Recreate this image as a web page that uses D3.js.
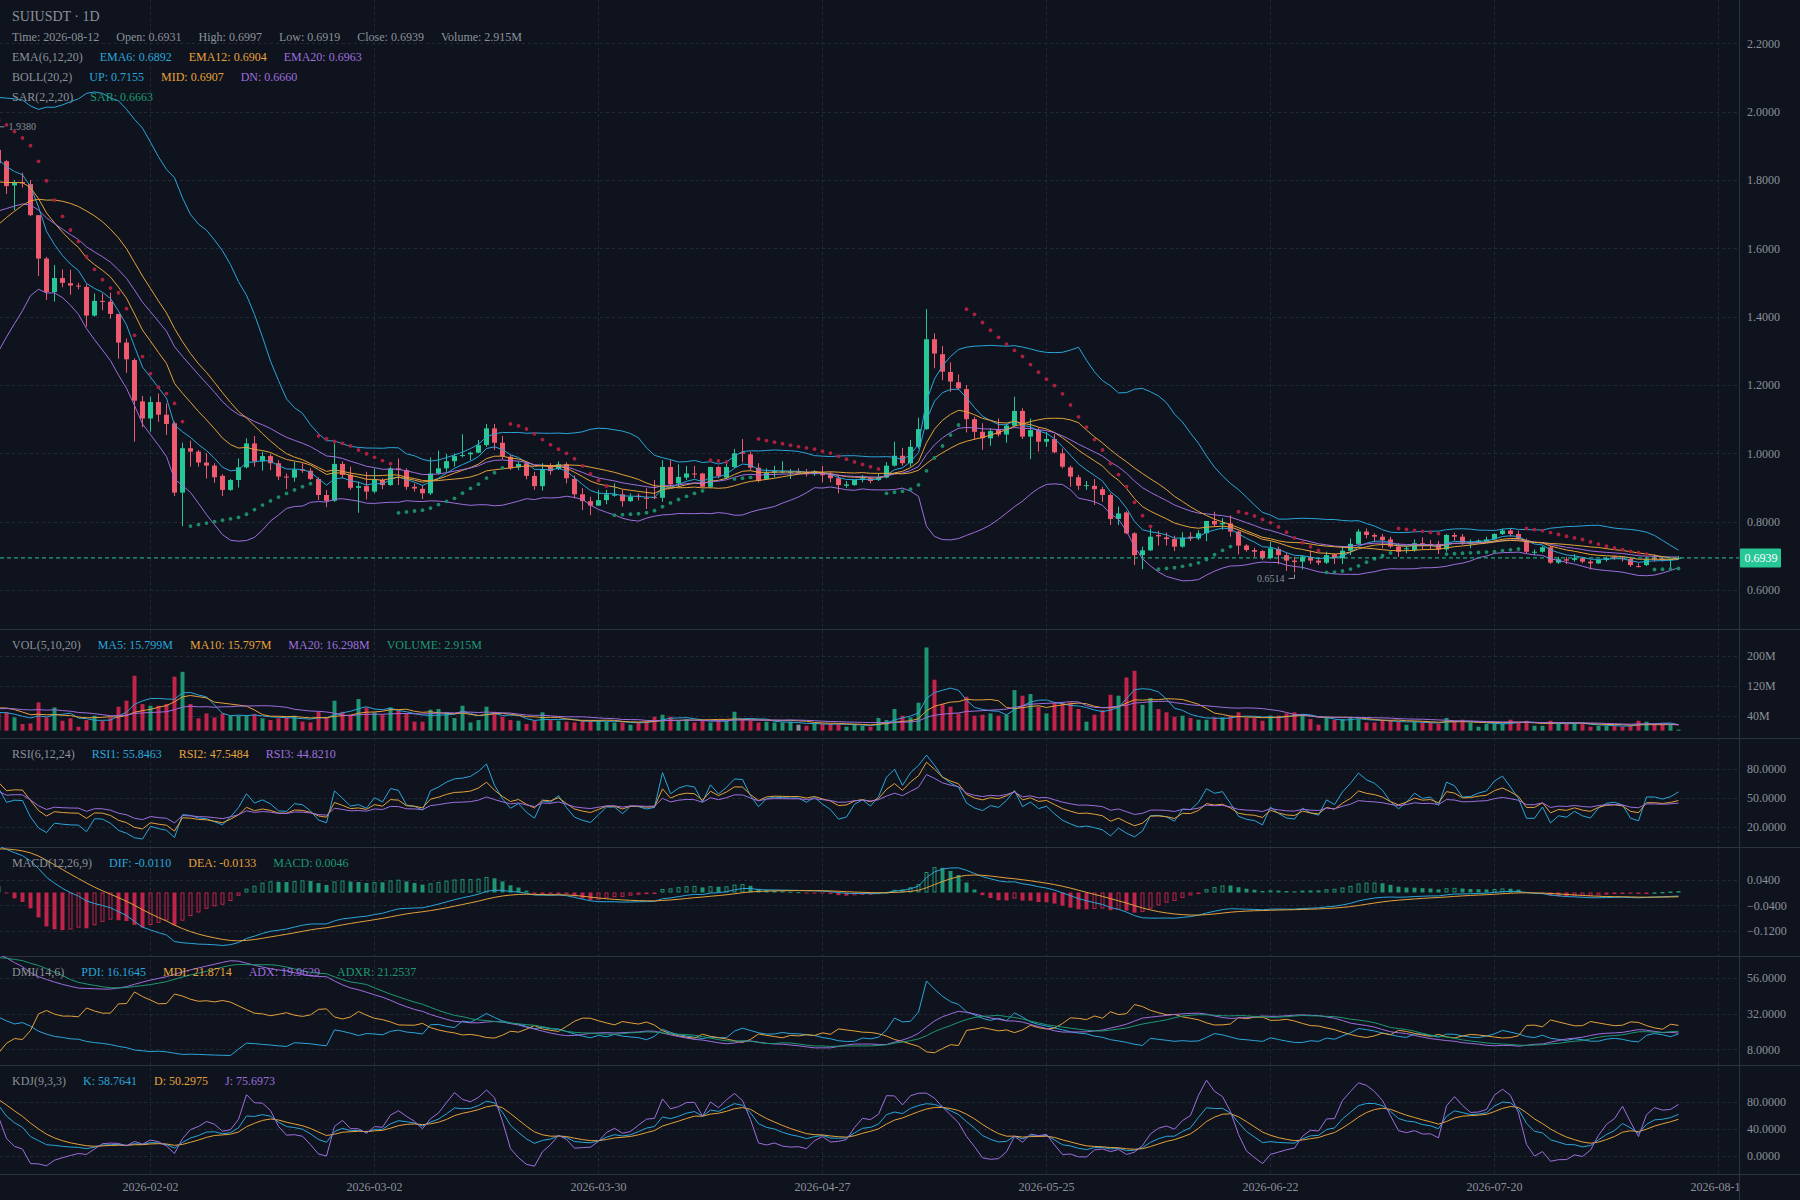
<!DOCTYPE html>
<html>
<head>
<meta charset="utf-8">
<script src="https://cdn.jsdelivr.net/npm/d3@7"></script>
<style>
  html, body { margin: 0; padding: 0; background: #0e131d; }
  svg { display: block; font-family: "Liberation Serif", "DejaVu Serif", serif; }
</style>
</head>
<body>
<svg id="chart" width="1800" height="1200"></svg>
<script>
// first day of the series (35 days before the first fully visible candle 2026-01-15)
const firstDay = '2025-12-11';

// daily OHLC + volume (M); the first 35 days sit left of the view
const opens = [
  1.34,1.36,1.33,1.38,1.35,1.40,1.37,1.34,1.39,1.36,
  1.41,1.38,1.35,1.39,1.37,1.41,1.38,1.42,1.45,1.43,
  1.48,1.52,1.51,1.57,1.62,1.67,1.66,1.73,1.79,1.85,
  1.83,1.91,1.95,1.90,1.888,
  1.855,1.784,1.794,1.788,1.697,1.570,1.472,1.513,1.498,1.491,
  1.487,1.403,1.446,1.444,1.408,1.324,1.273,1.152,1.102,1.150,
  1.113,1.088,0.885,1.015,1.005,0.973,0.964,0.934,0.893,0.922,
  0.959,1.029,0.976,0.992,0.971,0.932,0.929,0.953,0.949,0.925,
  0.878,0.861,0.969,0.937,0.899,0.904,0.888,0.922,0.907,0.956,
  0.951,0.902,0.896,0.883,0.941,0.956,0.977,0.992,0.997,1.002,
  1.024,1.073,1.031,0.990,0.959,0.971,0.934,0.904,0.961,0.954,
  0.968,0.925,0.880,0.860,0.847,0.863,0.876,0.880,0.860,0.876,
  0.870,0.872,0.870,0.960,0.912,0.929,0.941,0.941,0.902,0.960,
  0.929,0.960,1.003,0.997,0.958,0.925,0.943,0.944,0.944,0.946,
  0.944,0.939,0.941,0.938,0.927,0.905,0.907,0.922,0.927,0.922,
  0.929,0.964,0.993,0.971,1.019,1.071,1.334,1.290,1.238,1.208,
  1.188,1.100,1.063,1.044,1.068,1.055,1.081,1.124,1.049,1.068,
  1.034,1.042,1.000,0.959,0.930,0.904,0.905,0.895,0.878,0.808,
  0.827,0.766,0.702,0.716,0.761,0.754,0.749,0.727,0.756,0.751,
  0.766,0.802,0.792,0.795,0.771,0.730,0.717,0.714,0.693,0.720,
  0.702,0.686,0.683,0.696,0.686,0.680,0.704,0.693,0.715,0.735,
  0.771,0.761,0.756,0.748,0.727,0.719,0.717,0.737,0.734,0.735,
  0.719,0.761,0.756,0.737,0.740,0.741,0.748,0.764,0.774,0.764,
  0.746,0.710,0.712,0.725,0.680,0.690,0.688,0.693,0.683,0.678,
  0.688,0.698,0.695,0.691,0.670,0.673,0.695,0.692,0.688,0.6931
];
const highs = [
  1.38,1.37,1.40,1.39,1.42,1.41,1.38,1.41,1.40,1.43,
  1.42,1.39,1.41,1.40,1.43,1.42,1.44,1.47,1.46,1.50,
  1.54,1.54,1.59,1.64,1.69,1.70,1.75,1.81,1.87,1.87,
  1.93,1.98,1.97,1.93,1.938,
  1.858,1.800,1.821,1.800,1.697,1.575,1.551,1.538,1.537,1.499,
  1.495,1.468,1.468,1.470,1.408,1.336,1.278,1.168,1.166,1.175,
  1.146,1.093,1.031,1.037,1.010,1.000,0.971,0.939,0.925,0.985,
  1.044,1.051,1.005,0.998,0.980,0.941,0.975,0.971,0.956,0.930,
  0.893,1.029,0.976,0.961,0.917,0.946,0.956,0.927,0.961,0.985,
  0.956,0.912,0.907,0.988,1.008,0.998,1.000,1.056,1.005,1.039,
  1.086,1.086,1.051,0.995,0.976,0.976,0.946,0.971,0.971,0.976,
  0.974,0.935,0.898,0.873,0.893,0.893,0.912,0.893,0.883,0.883,
  0.898,0.922,0.980,0.980,0.968,0.963,0.963,0.943,0.961,0.963,
  0.971,1.013,1.042,1.005,0.971,0.956,0.963,0.977,0.954,0.956,
  0.954,0.951,0.963,0.946,0.937,0.919,0.922,0.937,0.932,0.941,
  0.974,1.034,1.016,1.039,1.104,1.422,1.351,1.314,1.266,1.231,
  1.200,1.107,1.088,1.073,1.102,1.088,1.166,1.132,1.102,1.075,
  1.063,1.056,1.014,0.964,0.937,0.919,0.925,0.902,0.883,0.844,
  0.831,0.769,0.727,0.780,0.773,0.768,0.759,0.769,0.769,0.775,
  0.802,0.829,0.810,0.819,0.773,0.734,0.724,0.717,0.741,0.727,
  0.709,0.697,0.702,0.715,0.693,0.712,0.707,0.729,0.751,0.778,
  0.780,0.766,0.764,0.756,0.737,0.729,0.748,0.754,0.746,0.744,
  0.764,0.768,0.764,0.748,0.748,0.756,0.766,0.780,0.780,0.774,
  0.751,0.719,0.729,0.729,0.697,0.697,0.705,0.697,0.688,0.690,
  0.697,0.701,0.699,0.697,0.678,0.697,0.705,0.697,0.692,0.6997
];
const lows = [
  1.32,1.31,1.32,1.33,1.34,1.35,1.32,1.33,1.34,1.35,
  1.36,1.33,1.34,1.35,1.36,1.36,1.37,1.40,1.41,1.42,
  1.46,1.49,1.50,1.55,1.60,1.63,1.65,1.71,1.77,1.80,
  1.82,1.89,1.88,1.86,1.840,
  1.759,1.712,1.778,1.694,1.519,1.449,1.444,1.486,1.464,1.480,
  1.371,1.400,1.419,1.394,1.277,1.236,1.034,1.076,1.063,1.092,
  1.054,0.875,0.787,0.961,0.961,0.926,0.914,0.875,0.890,0.900,
  0.956,0.961,0.949,0.951,0.922,0.895,0.917,0.943,0.922,0.863,
  0.842,0.858,0.927,0.893,0.826,0.865,0.883,0.895,0.905,0.907,
  0.893,0.888,0.866,0.878,0.937,0.946,0.961,0.988,0.980,1.000,
  1.019,1.010,0.982,0.951,0.951,0.924,0.893,0.891,0.937,0.951,
  0.912,0.868,0.834,0.819,0.847,0.851,0.873,0.844,0.858,0.862,
  0.837,0.866,0.858,0.902,0.902,0.922,0.927,0.899,0.897,0.927,
  0.925,0.956,0.974,0.951,0.915,0.922,0.929,0.941,0.925,0.941,
  0.932,0.934,0.915,0.915,0.883,0.899,0.905,0.915,0.912,0.919,
  0.927,0.961,0.964,0.961,1.014,1.068,1.249,1.214,1.180,1.185,
  1.061,1.039,1.010,1.022,1.049,1.031,1.078,1.042,0.983,1.005,
  1.019,1.000,0.956,0.902,0.893,0.893,0.849,0.858,0.790,0.790,
  0.763,0.673,0.661,0.714,0.730,0.730,0.714,0.724,0.743,0.746,
  0.743,0.785,0.776,0.756,0.704,0.712,0.697,0.688,0.690,0.675,
  0.656,0.6514,0.660,0.676,0.673,0.676,0.676,0.676,0.702,0.732,
  0.751,0.740,0.722,0.722,0.697,0.707,0.712,0.719,0.719,0.705,
  0.712,0.744,0.732,0.722,0.737,0.739,0.746,0.761,0.756,0.746,
  0.707,0.702,0.709,0.676,0.676,0.676,0.683,0.678,0.660,0.676,
  0.683,0.688,0.683,0.668,0.666,0.670,0.683,0.683,0.666,0.6919
];
const closes = [
  1.36,1.33,1.38,1.35,1.40,1.37,1.34,1.39,1.36,1.41,
  1.38,1.35,1.39,1.37,1.41,1.38,1.42,1.45,1.43,1.48,
  1.52,1.51,1.57,1.62,1.67,1.66,1.73,1.79,1.85,1.83,
  1.91,1.95,1.90,1.88,1.849,
  1.782,1.792,1.790,1.697,1.570,1.472,1.513,1.499,1.491,1.488,
  1.403,1.446,1.443,1.408,1.324,1.275,1.154,1.102,1.150,1.113,
  1.086,0.885,1.015,1.005,0.973,0.964,0.930,0.893,0.922,0.959,
  1.029,0.976,0.992,0.971,0.932,0.929,0.953,0.949,0.925,0.878,
  0.861,0.969,0.937,0.899,0.904,0.888,0.922,0.907,0.956,0.951,
  0.902,0.897,0.883,0.941,0.956,0.977,0.992,0.995,1.002,1.024,
  1.073,1.031,0.992,0.956,0.969,0.934,0.904,0.953,0.948,0.968,
  0.927,0.880,0.860,0.847,0.863,0.880,0.880,0.860,0.873,0.872,
  0.867,0.869,0.960,0.909,0.931,0.941,0.938,0.902,0.960,0.934,
  0.960,1.000,0.999,0.958,0.919,0.943,0.948,0.947,0.946,0.946,
  0.939,0.946,0.936,0.927,0.907,0.909,0.922,0.927,0.919,0.929,
  0.964,0.993,0.971,1.019,1.071,1.334,1.292,1.239,1.210,1.190,
  1.100,1.063,1.044,1.065,1.055,1.081,1.124,1.049,1.068,1.034,
  1.042,1.003,0.961,0.932,0.905,0.907,0.895,0.878,0.808,0.824,
  0.766,0.702,0.716,0.756,0.757,0.749,0.727,0.753,0.751,0.766,
  0.802,0.792,0.796,0.771,0.730,0.717,0.712,0.693,0.722,0.702,
  0.686,0.682,0.698,0.686,0.680,0.702,0.693,0.715,0.735,0.771,
  0.761,0.756,0.746,0.727,0.712,0.722,0.737,0.729,0.731,0.719,
  0.761,0.756,0.739,0.740,0.745,0.748,0.764,0.774,0.764,0.751,
  0.712,0.712,0.725,0.680,0.690,0.686,0.693,0.683,0.678,0.688,
  0.693,0.694,0.691,0.673,0.668,0.690,0.690,0.688,0.690,0.6939
];
const volumes = [
  42,38,45,36,48,33,40,44,31,47,
  35,39,42,30,46,37,52,55,41,58,
  62,44,66,71,75,52,78,84,90,61,
  52,55,46,42,48,
  49,35.5,17.8,19.5,75.5,35.5,62,26.6,33,10.6,
  28.4,40,26.6,35.5,64,80,146.7,71,66.6,66.6,
  71,144,157,71,33,46,35.5,46,40,40,
  40,44,33,28.4,33,35.5,40,24,22,50.6,
  35.5,80,50.6,42.6,84.4,62,49,42.6,62,53.3,
  46,24,24,56,57.8,49,33.8,66.6,22,28.4,
  64,50.6,37.3,28.4,26.6,17.8,26.6,49,28.4,26.6,
  24,22,26.6,26.6,26.6,24,22,22,16,22,
  26.6,37.3,42.6,37.3,26.6,31,22,26.6,22,28.4,
  26.6,50.6,31,26.6,22,24,22,22,24,16,
  13.3,19.5,17.8,19.5,17.8,10.6,16,13.3,10.6,33.8,
  28.4,57.8,40,35.5,74.6,222,136,71,64,46,
  90.6,40,42.6,46,40,42.6,108.4,93.3,97.8,64,
  46,75.5,75.5,75.5,57.8,24,42.6,55,96,93.3,
  142,160,69,87,57.8,49,37.3,40,33.8,29.3,
  29.3,35.5,35.5,40,49,33.8,33.8,26.6,40,40,
  46,49,44.4,31,16,35.5,28.4,31,35.5,31,
  22,22,28.4,26.6,24,16,24,22,22,17.8,
  33.8,24,29.3,22,10.6,17.8,19.5,19.5,29.3,22,
  26.6,13.3,13.3,26.6,19.5,19.5,17.8,17.8,10.6,13.3,
  13.3,13.3,10.6,13.3,26.6,24,17.8,17.8,16,2.915
];

// axis ticks
const xTickDates = ['2026-02-02','2026-03-02','2026-03-30','2026-04-27','2026-05-25','2026-06-22','2026-07-20','2026-08-17'];
const priceTicks = [2.2, 2.0, 1.8, 1.6, 1.4, 1.2, 1.0, 0.8, 0.6];
const volTicks = [200, 120, 40];
const rsiTicks = [80, 50, 20];
const macdTicks = [0.04, -0.04, -0.12];
const dmiTicks = [56, 32, 8];
const kdjTicks = [80, 40, 0];

// legend texts as shown
const titleText = 'SUIUSDT · 1D';
const ohlcLegend = ['Time: 2026-08-12', 'Open: 0.6931', 'High: 0.6997', 'Low: 0.6919', 'Close: 0.6939', 'Volume: 2.915M'];
const emaLegend = ['EMA(6,12,20)', 'EMA6: 0.6892', 'EMA12: 0.6904', 'EMA20: 0.6963'];
const bollLegend = ['BOLL(20,2)', 'UP: 0.7155', 'MID: 0.6907', 'DN: 0.6660'];
const sarLegend = ['SAR(2,2,20)', 'SAR: 0.6663'];
const volLegend = ['VOL(5,10,20)', 'MA5: 15.799M', 'MA10: 15.797M', 'MA20: 16.298M', 'VOLUME: 2.915M'];
const rsiLegend = ['RSI(6,12,24)', 'RSI1: 55.8463', 'RSI2: 47.5484', 'RSI3: 44.8210'];
const macdLegend = ['MACD(12,26,9)', 'DIF: -0.0110', 'DEA: -0.0133', 'MACD: 0.0046'];
const dmiLegend = ['DMI(14,6)', 'PDI: 16.1645', 'MDI: 21.8714', 'ADX: 19.9629', 'ADXR: 21.2537'];
const kdjLegend = ['KDJ(9,3,3)', 'K: 58.7641', 'D: 50.2975', 'J: 75.6973'];

// ---- styles / layout
const W = 1800, H = 1200, plotW = 1739;
const bg = '#0e131d', gridColor = '#222937', sepColor = '#2b3341', grey = '#8c919b';
const blue = '#2ba6da', orange = '#e6a23c', purple = '#9f6fdf', teal = '#1f9873';
const upColor = '#27c796', downColor = '#ef5a6f', flatColor = '#8c919b';
const volUp = '#1f9470', volDown = '#c2234a';
const sarUp = '#1c8a66', sarDown = '#ab1f41';
const fmt4 = d3.format('.4f');

const bars = closes.map((c, i) => ({
  date: d3.utcDay.offset(new Date(firstDay + 'T00:00:00Z'), i),
  o: opens[i], h: highs[i], l: lows[i], c: c, v: volumes[i]
}));
const candleColor = b => b.c > b.o ? upColor : b.c < b.o ? downColor : flatColor;
const barColor = b => b.c > b.o ? volUp : b.c < b.o ? volDown : flatColor;

// ---- indicators
function sma(arr, n) {
  return arr.map((_, i) => i < n - 1 ? null : d3.mean(arr.slice(i - n + 1, i + 1)));
}
function ema(arr, n) {
  let sum = 0, prev = null;
  return arr.map((v, i) => {
    sum += v;
    if (i < n - 1) return null;
    prev = i === n - 1 ? sum / n : (2 * v + (n - 1) * prev) / (n + 1);
    return prev;
  });
}
function calcBoll(arr, n, k) {
  const mid = sma(arr, n);
  return arr.map((_, i) => {
    if (mid[i] == null) return null;
    const win = arr.slice(i - n + 1, i + 1);
    const sd = Math.sqrt(d3.mean(win, v => (v - mid[i]) ** 2));
    return { up: mid[i] + k * sd, mid: mid[i], dn: mid[i] - k * sd };
  });
}
function calcSar(data) {
  const start = 0.02, step = 0.02, max = 0.2;
  let af = start, ep = -100, up = false, sar = 0;
  return data.map((d, i) => {
    const pre = sar;
    const prevBar = data[Math.max(1, i) - 1];
    if (up) {
      if (ep === -100 || ep < d.h) { ep = d.h; af = Math.min(af + step, max); }
      sar = pre + af * (ep - pre);
      const lowMin = Math.min(prevBar.l, d.l);
      if (sar > d.l) { sar = ep; af = start; ep = -100; up = false; }
      else if (sar > lowMin) sar = lowMin;
    } else {
      if (ep === -100 || ep > d.l) { ep = d.l; af = Math.min(af + step, max); }
      sar = pre + af * (ep - pre);
      const highMax = Math.max(prevBar.h, d.h);
      if (sar < d.h) { sar = ep; af = 0; ep = -100; up = true; }
      else if (sar < highMax) sar = highMax;
    }
    return sar;
  });
}
// RSI with Wilder smoothing: SMA(x, n, 1)
function calcRsi(arr, n) {
  let up = null, dn = null;
  return arr.map((c, i) => {
    if (i === 0) return null;
    const ch = c - arr[i - 1];
    const u = Math.max(ch, 0), d = Math.max(-ch, 0);
    up = up == null ? u : (u + (n - 1) * up) / n;
    dn = dn == null ? d : (d + (n - 1) * dn) / n;
    if (i < n) return null;
    return up + dn ? up / (up + dn) * 100 : 50;
  });
}
function calcMacd(arr, s, l, sig) {
  const es = ema(arr, s), el = ema(arr, l);
  let difSum = 0, dea = null;
  return arr.map((c, i) => {
    if (el[i] == null) return null;
    const dif = es[i] - el[i];
    difSum += dif;
    const r = { dif };
    if (i >= l + sig - 2) {
      dea = i > l + sig - 2 ? (dif * 2 + dea * (sig - 1)) / (sig + 1) : difSum / sig;
      r.dea = dea;
      r.macd = (dif - dea) * 2;
    }
    return r;
  });
}
function calcDmi(data, n, m) {
  let trSum = 0, hSum = 0, lSum = 0, mtr = 0, dmp = 0, dmm = 0, dxSum = 0, adx = 0;
  const res = [];
  data.forEach((d, i) => {
    const p = data[i - 1] || d;
    const tr = Math.max(d.h - d.l, Math.abs(d.h - p.c), Math.abs(p.c - d.l));
    const hhy = d.h - p.h, lyl = p.l - d.l;
    const hv = hhy > 0 && hhy > lyl ? hhy : 0;
    const lv = lyl > 0 && lyl > hhy ? lyl : 0;
    trSum += tr; hSum += hv; lSum += lv;
    const r = {};
    if (i >= n - 1) {
      if (i > n - 1) {
        mtr = mtr - mtr / n + tr; dmp = dmp - dmp / n + hv; dmm = dmm - dmm / n + lv;
      } else { mtr = trSum; dmp = hSum; dmm = lSum; }
      const pdi = mtr ? dmp * 100 / mtr : 0, mdi = mtr ? dmm * 100 / mtr : 0;
      const dx = pdi + mdi ? Math.abs(mdi - pdi) / (mdi + pdi) * 100 : 0;
      dxSum += dx;
      if (i >= n * 2 - 2) {
        adx = i > n * 2 - 2 ? (adx * (n - 1) + dx) / n : dxSum / n;
        r.pdi = pdi; r.mdi = mdi; r.adx = adx;
        if (i >= n * 2 + m - 3) r.adxr = (res[i - (m - 1)].adx + adx) / 2;
      }
    }
    res.push(r);
  });
  return res;
}
function calcKdj(data, n, m1, m2) {
  let k = 50, d = 50;
  return data.map((b, i) => {
    if (i < n - 1) return null;
    const win = data.slice(i - n + 1, i + 1);
    const hn = d3.max(win, w => w.h), ln = d3.min(win, w => w.l);
    const rsv = (b.c - ln) / ((hn - ln) || 1) * 100;
    k = ((m1 - 1) * k + rsv) / m1;
    d = ((m2 - 1) * d + k) / m2;
    return { k, d, j: 3 * k - 2 * d };
  });
}

const ema6 = ema(closes, 6), ema12 = ema(closes, 12), ema20 = ema(closes, 20);
const boll = calcBoll(closes, 20, 2);
const sar = calcSar(bars);
const volMa5 = sma(volumes, 5), volMa10 = sma(volumes, 10), volMa20 = sma(volumes, 20);
const rsi6 = calcRsi(closes, 6), rsi12 = calcRsi(closes, 12), rsi24 = calcRsi(closes, 24);
const macd = calcMacd(closes, 12, 26, 9);
const dmi = calcDmi(bars, 14, 6);
const kdj = calcKdj(bars, 9, 3, 3);

// ---- scales
const x = d3.scaleUtc()
  .domain([new Date('2026-01-15T00:00:00Z'), new Date('2026-08-12T00:00:00Z')])
  .range([6, 1678]);
const px = d => x(d) + 0.5;

const panels = [
  { id: 'main', top: 0, bottom: 629 },
  { id: 'vol', top: 629, bottom: 738 },
  { id: 'rsi', top: 738, bottom: 847 },
  { id: 'macd', top: 847, bottom: 956 },
  { id: 'dmi', top: 956, bottom: 1065 },
  { id: 'kdj', top: 1065, bottom: 1174 }
];
const yMain = d3.scaleLinear().domain([0.6, 2.2]).range([590.0, 43.3]);
const yVol = d3.scaleLinear().domain([0, 200]).range([730.7, 655.7]);
const yRsi = d3.scaleLinear().domain([20, 80]).range([827.0, 769.0]);
const yMacd = d3.scaleLinear().domain([-0.04, 0.04]).range([905.3, 879.7]);
const yDmi = d3.scaleLinear().domain([8, 56]).range([1049.3, 978.1]);
const yKdj = d3.scaleLinear().domain([0, 80]).range([1156.0, 1102.0]);

// ---- drawing
const svg = d3.select('#chart');
svg.append('rect').attr('width', W).attr('height', H).attr('fill', bg);
const defs = svg.append('defs');
panels.forEach(p => {
  defs.append('clipPath').attr('id', 'clip-' + p.id).append('rect')
    .attr('x', 0).attr('y', p.top).attr('width', plotW).attr('height', p.bottom - p.top);
});
defs.append('clipPath').attr('id', 'clip-xaxis').append('rect')
  .attr('x', 0).attr('y', 1174).attr('width', plotW).attr('height', 26);

const xTicks = xTickDates.map(s => new Date(s + 'T00:00:00Z'));

// grid
const grid = svg.append('g').attr('stroke', gridColor).attr('stroke-dasharray', '3,3').attr('shape-rendering', 'crispEdges');
grid.selectAll('line.v').data(xTicks).join('line')
  .attr('x1', d => Math.round(x(d)) + 0.5).attr('x2', d => Math.round(x(d)) + 0.5)
  .attr('y1', 0).attr('y2', 1174);
[[yMain, priceTicks], [yVol, volTicks], [yRsi, rsiTicks], [yMacd, macdTicks], [yDmi, dmiTicks], [yKdj, kdjTicks]]
  .forEach(([s, t]) => {
    grid.append('g').selectAll('line').data(t).join('line')
      .attr('x1', 0).attr('x2', plotW)
      .attr('y1', d => Math.round(s(d)) + 0.5).attr('y2', d => Math.round(s(d)) + 0.5);
  });

// separators
const sep = svg.append('g').attr('stroke', sepColor).attr('shape-rendering', 'crispEdges');
panels.slice(1).map(p => p.top).concat([1174]).forEach(yy => {
  sep.append('line').attr('x1', 0).attr('x2', W).attr('y1', yy + 0.5).attr('y2', yy + 0.5);
});
sep.append('line').attr('x1', plotW + 0.5).attr('x2', plotW + 0.5).attr('y1', 0).attr('y2', H);

function drawLine(g, values, yScale, color) {
  const line = d3.line()
    .defined(d => d != null && !isNaN(d))
    .x((d, i) => px(bars[i].date))
    .y(d => yScale(d));
  g.append('path').datum(values).attr('d', line)
    .attr('fill', 'none').attr('stroke', color).attr('stroke-width', 1);
}

// main panel: candles
const main = svg.append('g').attr('clip-path', 'url(#clip-main)');
const bodyW = 5;
main.append('g').selectAll('line').data(bars).join('line')
  .attr('x1', d => px(d.date)).attr('x2', d => px(d.date))
  .attr('y1', d => yMain(d.h)).attr('y2', d => yMain(d.l))
  .attr('stroke', candleColor).attr('stroke-width', 1);
main.append('g').selectAll('rect').data(bars).join('rect')
  .attr('x', d => px(d.date) - bodyW / 2)
  .attr('y', d => yMain(Math.max(d.o, d.c)))
  .attr('width', bodyW)
  .attr('height', d => Math.max(1, Math.abs(yMain(d.o) - yMain(d.c))))
  .attr('fill', candleColor);

// main panel: EMA + BOLL + SAR
drawLine(main, ema6, yMain, blue);
drawLine(main, ema12, yMain, orange);
drawLine(main, ema20, yMain, purple);
drawLine(main, boll.map(b => b && b.up), yMain, blue);
drawLine(main, boll.map(b => b && b.mid), yMain, orange);
drawLine(main, boll.map(b => b && b.dn), yMain, purple);
main.append('g').selectAll('circle').data(bars).join('circle')
  .attr('cx', d => px(d.date)).attr('cy', (d, i) => yMain(sar[i]))
  .attr('r', 1.9)
  .attr('fill', (d, i) => sar[i] > d.c ? sarDown : sarUp);

// high / low marks over the visible candles
const visible = bars.filter(b => x(b.date) + 3 > 0 && x(b.date) - 3 < plotW);
const hiBar = visible.reduce((a, b) => b.h > a.h ? b : a);
const loBar = visible.reduce((a, b) => b.l < a.l ? b : a);
function priceMark(b, val, isHigh) {
  const cx = px(b.date), cy = yMain(val);
  const dir = cx < plotW / 2 ? 1 : -1;
  const yy = isHigh ? cy - 6 : cy + 6;
  main.append('path')
    .attr('d', `M${cx},${isHigh ? cy - 2 : cy + 2}V${yy}H${cx + dir * 6}`)
    .attr('fill', 'none').attr('stroke', grey).attr('stroke-width', 1);
  main.append('text')
    .attr('x', cx + dir * 10).attr('y', yy).attr('dy', '0.35em')
    .attr('text-anchor', dir > 0 ? 'start' : 'end')
    .attr('font-size', 10).attr('fill', grey).text(fmt4(val));
}
priceMark(hiBar, hiBar.h, true);
priceMark(loBar, loBar.l, false);

// last price line
const last = bars[bars.length - 1];
main.append('line').attr('x1', 0).attr('x2', plotW)
  .attr('y1', yMain(last.c)).attr('y2', yMain(last.c))
  .attr('stroke', upColor).attr('stroke-dasharray', '4,3').attr('stroke-width', 1);

// volume panel
const vol = svg.append('g').attr('clip-path', 'url(#clip-vol)');
vol.append('g').selectAll('rect').data(bars).join('rect')
  .attr('x', d => px(d.date) - 2).attr('width', 4)
  .attr('y', d => yVol(d.v)).attr('height', d => yVol(0) - yVol(d.v))
  .attr('fill', barColor);
drawLine(vol, volMa5, yVol, blue);
drawLine(vol, volMa10, yVol, orange);
drawLine(vol, volMa20, yVol, purple);

// RSI panel
const rsiG = svg.append('g').attr('clip-path', 'url(#clip-rsi)');
drawLine(rsiG, rsi6, yRsi, blue);
drawLine(rsiG, rsi12, yRsi, orange);
drawLine(rsiG, rsi24, yRsi, purple);

// MACD panel
const macdG = svg.append('g').attr('clip-path', 'url(#clip-macd)');
const macdBars = bars.map((b, i) => ({ date: b.date, v: macd[i] && macd[i].macd, prev: macd[i - 1] && macd[i - 1].macd }))
  .filter(d => d.v != null);
macdG.append('g').selectAll('rect').data(macdBars).join('rect')
  .each(function (d) {
    const hollow = d.prev != null && d.v > d.prev;
    const color = d.v > 0 ? volUp : volDown;
    const y0 = yMacd(0), y1 = yMacd(d.v);
    const top = Math.min(y0, y1), h = Math.max(1, Math.abs(y1 - y0));
    d3.select(this)
      .attr('x', hollow ? px(d.date) - 1.5 : px(d.date) - 2)
      .attr('width', hollow ? 3 : 4)
      .attr('y', hollow ? top + 0.5 : top)
      .attr('height', hollow ? Math.max(0.5, h - 1) : h)
      .attr('fill', hollow ? 'none' : color)
      .attr('stroke', hollow ? color : 'none')
      .attr('stroke-width', 1);
  });
drawLine(macdG, macd.map(m => m && m.dif), yMacd, blue);
drawLine(macdG, macd.map(m => m && m.dea), yMacd, orange);

// DMI panel
const dmiG = svg.append('g').attr('clip-path', 'url(#clip-dmi)');
drawLine(dmiG, dmi.map(d => d.pdi), yDmi, blue);
drawLine(dmiG, dmi.map(d => d.mdi), yDmi, orange);
drawLine(dmiG, dmi.map(d => d.adx), yDmi, purple);
drawLine(dmiG, dmi.map(d => d.adxr), yDmi, teal);

// KDJ panel
const kdjG = svg.append('g').attr('clip-path', 'url(#clip-kdj)');
drawLine(kdjG, kdj.map(d => d && d.k), yKdj, blue);
drawLine(kdjG, kdj.map(d => d && d.d), yKdj, orange);
drawLine(kdjG, kdj.map(d => d && d.j), yKdj, purple);

// right axes
function rightAxis(scale, ticks, format) {
  const g = svg.append('g').attr('transform', `translate(${plotW},0)`)
    .call(d3.axisRight(scale).tickValues(ticks).tickFormat(format).tickSize(0).tickPadding(8));
  g.select('.domain').remove();
  g.attr('font-family', null).attr('font-size', 12).attr('color', grey);
}
rightAxis(yMain, priceTicks, fmt4);
rightAxis(yVol, volTicks, d => d + 'M');
rightAxis(yRsi, rsiTicks, fmt4);
rightAxis(yMacd, macdTicks, fmt4);
rightAxis(yDmi, dmiTicks, fmt4);
rightAxis(yKdj, kdjTicks, fmt4);

// last price tag
const tagY = yMain(last.c);
svg.append('rect').attr('x', plotW + 1).attr('y', tagY - 9.5).attr('width', 41).attr('height', 19)
  .attr('fill', upColor).attr('rx', 1);
svg.append('text').attr('x', plotW + 5.5).attr('y', tagY).attr('dy', '0.35em')
  .attr('font-size', 12).attr('fill', '#ffffff').text(fmt4(last.c));

// x axis (clipped to the plot width, like the reference)
const xAxisG = svg.append('g').attr('clip-path', 'url(#clip-xaxis)')
  .append('g').attr('transform', 'translate(0,1174)')
  .call(d3.axisBottom(x).tickValues(xTicks).tickFormat(d3.utcFormat('%Y-%m-%d')).tickSize(0));
xAxisG.select('.domain').remove();
xAxisG.attr('font-family', null).attr('font-size', 12).attr('color', grey);
xAxisG.selectAll('text').attr('y', 13).attr('dy', '0.35em');

// legends
function legendRow(yc, texts, colors) {
  let cx = 12;
  texts.forEach((t, k) => {
    const el = svg.append('text').attr('x', cx).attr('y', yc).attr('dy', '0.35em')
      .attr('font-size', 12).attr('fill', colors[k] || grey).text(t);
    cx += el.node().getComputedTextLength() + 17;
  });
}
svg.append('text').attr('x', 12).attr('y', 16).attr('dy', '0.35em')
  .attr('font-size', 14).attr('fill', grey).text(titleText);
legendRow(36.7, ohlcLegend, ohlcLegend.map(() => grey));
legendRow(56.7, emaLegend, [grey, blue, orange, purple]);
legendRow(76.7, bollLegend, [grey, blue, orange, purple]);
legendRow(96.7, sarLegend, [grey, teal]);
legendRow(645, volLegend, [grey, blue, orange, purple, teal]);
legendRow(753.5, rsiLegend, [grey, blue, orange, purple]);
legendRow(863, macdLegend, [grey, blue, orange, teal]);
legendRow(971.5, dmiLegend, [grey, blue, orange, purple, teal]);
legendRow(1080.5, kdjLegend, [grey, blue, orange, purple]);
</script>
</body>
</html>
